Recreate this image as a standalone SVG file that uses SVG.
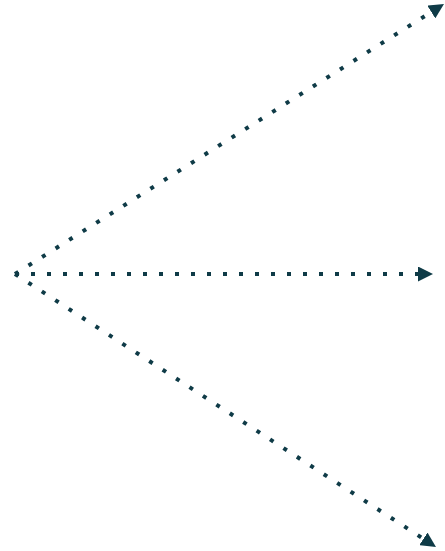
<svg xmlns="http://www.w3.org/2000/svg" width="445" height="551" viewBox="0 0 445 551">
<style>
.c{stroke:#0f3b47;stroke-width:4;stroke-dasharray:4 12;fill:none;marker-end:url(#ah)}
</style>
<defs>
<marker id="ah" viewBox="0 0 15 15" refX="0" refY="7.5" markerWidth="15" markerHeight="15" markerUnits="userSpaceOnUse" orient="auto">
<path d="M0,0 L15,7.5 L0,15 z" fill="#0f3b47"/>
</marker>
</defs>
<g id="connectors">
<line class="c" x1="15" y1="274" x2="431.3" y2="12"/>
<line class="c" x1="15" y1="274" x2="418" y2="274"/>
<line class="c" x1="15" y1="274" x2="423.4" y2="538.8"/>
</g>
</svg>
